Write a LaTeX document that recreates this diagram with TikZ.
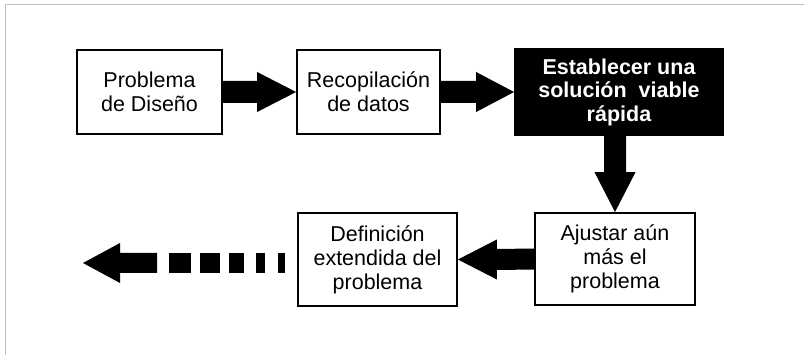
\documentclass[tikz,border=0pt]{standalone}
\usepackage{fontspec}
\setmainfont{Liberation Sans}
\usetikzlibrary{calc}
\begin{document}
\begin{tikzpicture}[x=1pt,y=-1pt,
  box/.style={draw=black,line width=1.8pt,fill=white,align=center,inner sep=0pt,
    font=\fontsize{21.5}{24}\selectfont},
  darkbox/.style={box,fill=black,text=white,font=\fontsize{21.5}{23.5}\selectfont\bfseries},
  blockarrow/.style={fill=black}]
\useasboundingbox (0,0) rectangle (804,355);
\fill[white] (0,0) rectangle (804,355);
\draw[black!25,line width=1pt] (5,355) -- (5,4.5) -- (804,4.5);

\node[box,minimum width=145pt,minimum height=84pt] (b1) at (149.5,92) {Problema\\de Diseño};
\node[box,minimum width=143pt,minimum height=84pt] (b2) at (368.5,92) {Recopilación\\de datos};
\node[darkbox,minimum width=208pt,minimum height=86pt] (b3) at (619,92) {Establecer una\\solución~~viable\\rápida};
\node[box,minimum width=160pt,minimum height=92pt] (b4) at (615,259) {Ajustar aún\\más el\\problema};
\node[box,minimum width=159pt,minimum height=93pt] (b5) at (377.5,259.5) {Definición\\extendida del\\problema};
\coordinate (out) at (83,263);

% b1 -> b2
\fill[blockarrow] ($(b1.east)+(0,-11)$) -- ($(b2.west)+(-39,-11)$) -- ($(b2.west)+(-39,-20)$)
  -- (b2.west) -- ($(b2.west)+(-39,20)$) -- ($(b2.west)+(-39,11)$) -- ($(b1.east)+(0,11)$) -- cycle;
% b2 -> b3
\fill[blockarrow] ($(b2.east)+(0,-11)$) -- ($(b3.west)+(-38,-11)$) -- ($(b3.west)+(-38,-20)$)
  -- (b3.west) -- ($(b3.west)+(-38,20)$) -- ($(b3.west)+(-38,11)$) -- ($(b2.east)+(0,11)$) -- cycle;
% b3 -> b4 (vertical)
\fill[blockarrow] ($(b3.south -| b4.north)+(-11,0)$) -- ($(b4.north)+(-11,-40)$) -- ($(b4.north)+(-20.5,-40)$)
  -- (b4.north) -- ($(b4.north)+(20.5,-40)$) -- ($(b4.north)+(11,-40)$) -- ($(b3.south -| b4.north)+(11,0)$) -- cycle;
% b4 -> b5
\fill[blockarrow] ($(b4.west)+(0,-10.5)$) -- ($(b5.east)+(39,-10.5)$) -- ($(b5.east)+(39,-20)$)
  -- (b5.east) -- ($(b5.east)+(39,20)$) -- ($(b5.east)+(39,10.5)$) -- ($(b4.west)+(0,10.5)$) -- cycle;
% b5 -> out (dashed block arrow)
\fill[blockarrow] (out) -- ($(out)+(37,-20)$) -- ($(out)+(37,-10)$) -- ($(out)+(74,-10)$)
  -- ($(out)+(74,10)$) -- ($(out)+(37,10)$) -- ($(out)+(37,20)$) -- cycle;
\foreach \a/\b in {86/108, 117/137, 146/161, 173/182, 195/202}
  \fill[blockarrow] ($(out)+(\a,-10)$) rectangle ($(out)+(\b,10)$);
\end{tikzpicture}
\end{document}
